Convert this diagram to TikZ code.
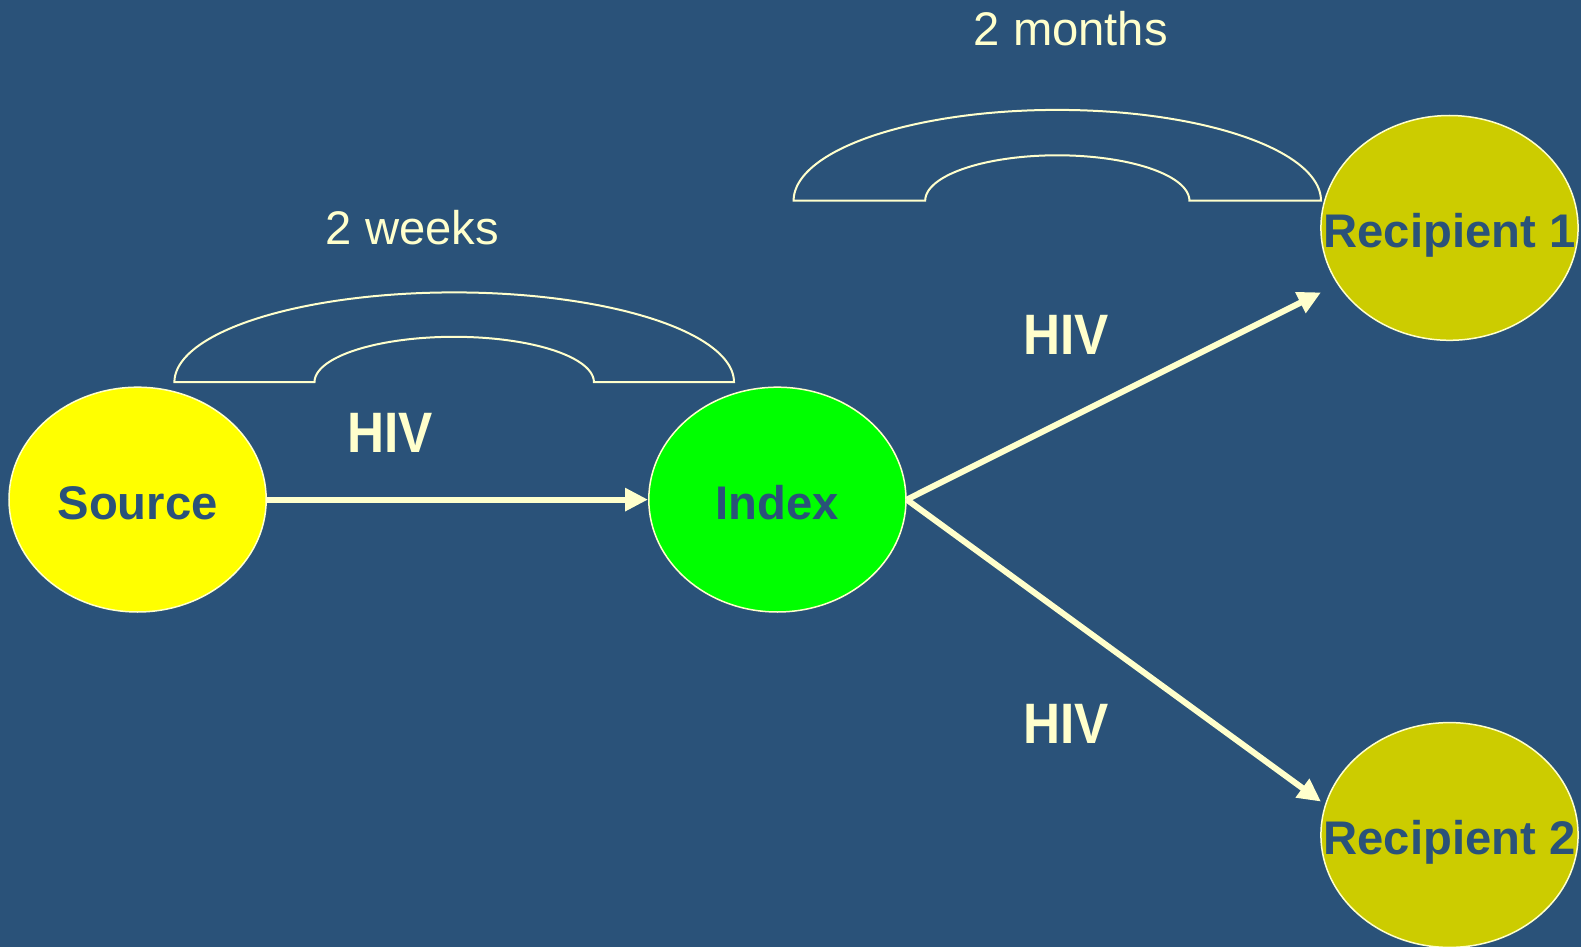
\documentclass[tikz,border=0pt]{standalone}
\usepackage{fontspec}
\setmainfont{Liberation Sans}
\newfontfamily\narrowfont[FakeStretch=0.9]{Liberation Sans}
\usetikzlibrary{shapes.geometric,arrows.meta}
\definecolor{bg}{HTML}{2A5279}
\definecolor{cream}{HTML}{FFFFCC}
\definecolor{yel}{HTML}{FFFF00}
\definecolor{grn}{HTML}{00FF00}
\definecolor{olive}{HTML}{CCCC00}
\tikzset{
  person/.style={ellipse, draw=cream, line width=0.75pt, minimum width=128.6pt, minimum height=112.4pt, inner sep=0pt},
  personname/.style={anchor=base, inner sep=0pt, font=\fontsize{23.6pt}{26pt}\selectfont\bfseries, text=bg},
  flow/.style={draw=cream, line width=3pt, -{Triangle[length=11.5pt,width=11pt]}},
  hivlabel/.style={font=\narrowfont\fontsize{28.5pt}{30pt}\selectfont\bfseries, text=cream},
  timelabel/.style={font=\fontsize{23.6pt}{26pt}\selectfont, text=cream},
  handle/.style={draw=cream, line width=1pt, line join=miter}
}
\begin{document}
\begin{tikzpicture}[x=0.5pt,y=-0.5pt]
\fill[bg] (0,0) rectangle (1581,947);
\useasboundingbox (0,0) rectangle (1581,947);
\begin{scope}
\clip (0,0) rectangle (1581,947);
\node[person, fill=yel] (source) at (137.6,499.6) {};
\node[person, fill=grn] (index) at (777.4,499.6) {};
\node[person, fill=olive] (rec1) at (1449.5,227.9) {};
\node[person, fill=olive] (rec2) at (1449.5,835) {};
\end{scope}
\node[personname] (sourcet) at ([yshift=-9.8pt]source.center) {Source};
\node[personname] (indext) at ([yshift=-9.8pt]index.center) {Index};
\node[personname] (rec1t) at ([yshift=-9.8pt]rec1.center) {Recipient 1};
\node[personname] (rec2t) at ([yshift=-9.8pt]rec2.center) {Recipient 2};
\coordinate (tip1) at (1321,292.4);
\coordinate (tip2) at (1321,801.6);
\draw[flow] (source.east) -- (index.west);
\draw[flow] (index.east) -- (tip1);
\draw[flow] (index.east) -- (tip2);
\node[hivlabel] (hiv1) at (390.2,432.6) {HIV};
\node[hivlabel] (hiv2) at (1065.8,334.8) {HIV};
\node[hivlabel] (hiv3) at (1065.8,724) {HIV};
\node[timelabel] (weeks) at (412.4,228) {2 weeks};
\node[timelabel] (months) at (1070.8,28.2) {2 months};
% handle 1
\draw[handle] plot[domain=180:0, samples=120] ({454.2+279.8*cos(\x)},{382.2-89.8*sin(\x)})
  -- (594,382.2)
  -- plot[domain=0:180, samples=120] ({454.2+139.7*cos(\x)},{382.2-45.4*sin(\x)})
  -- cycle;
% handle 2
\draw[handle] plot[domain=180:0, samples=120] ({1057.3+263.7*cos(\x)},{200.7-90.8*sin(\x)})
  -- (1189.8,200.7)
  -- plot[domain=0:180, samples=120] ({1057.3+132.1*cos(\x)},{200.7-45.4*sin(\x)})
  -- cycle;
\end{tikzpicture}
\end{document}
